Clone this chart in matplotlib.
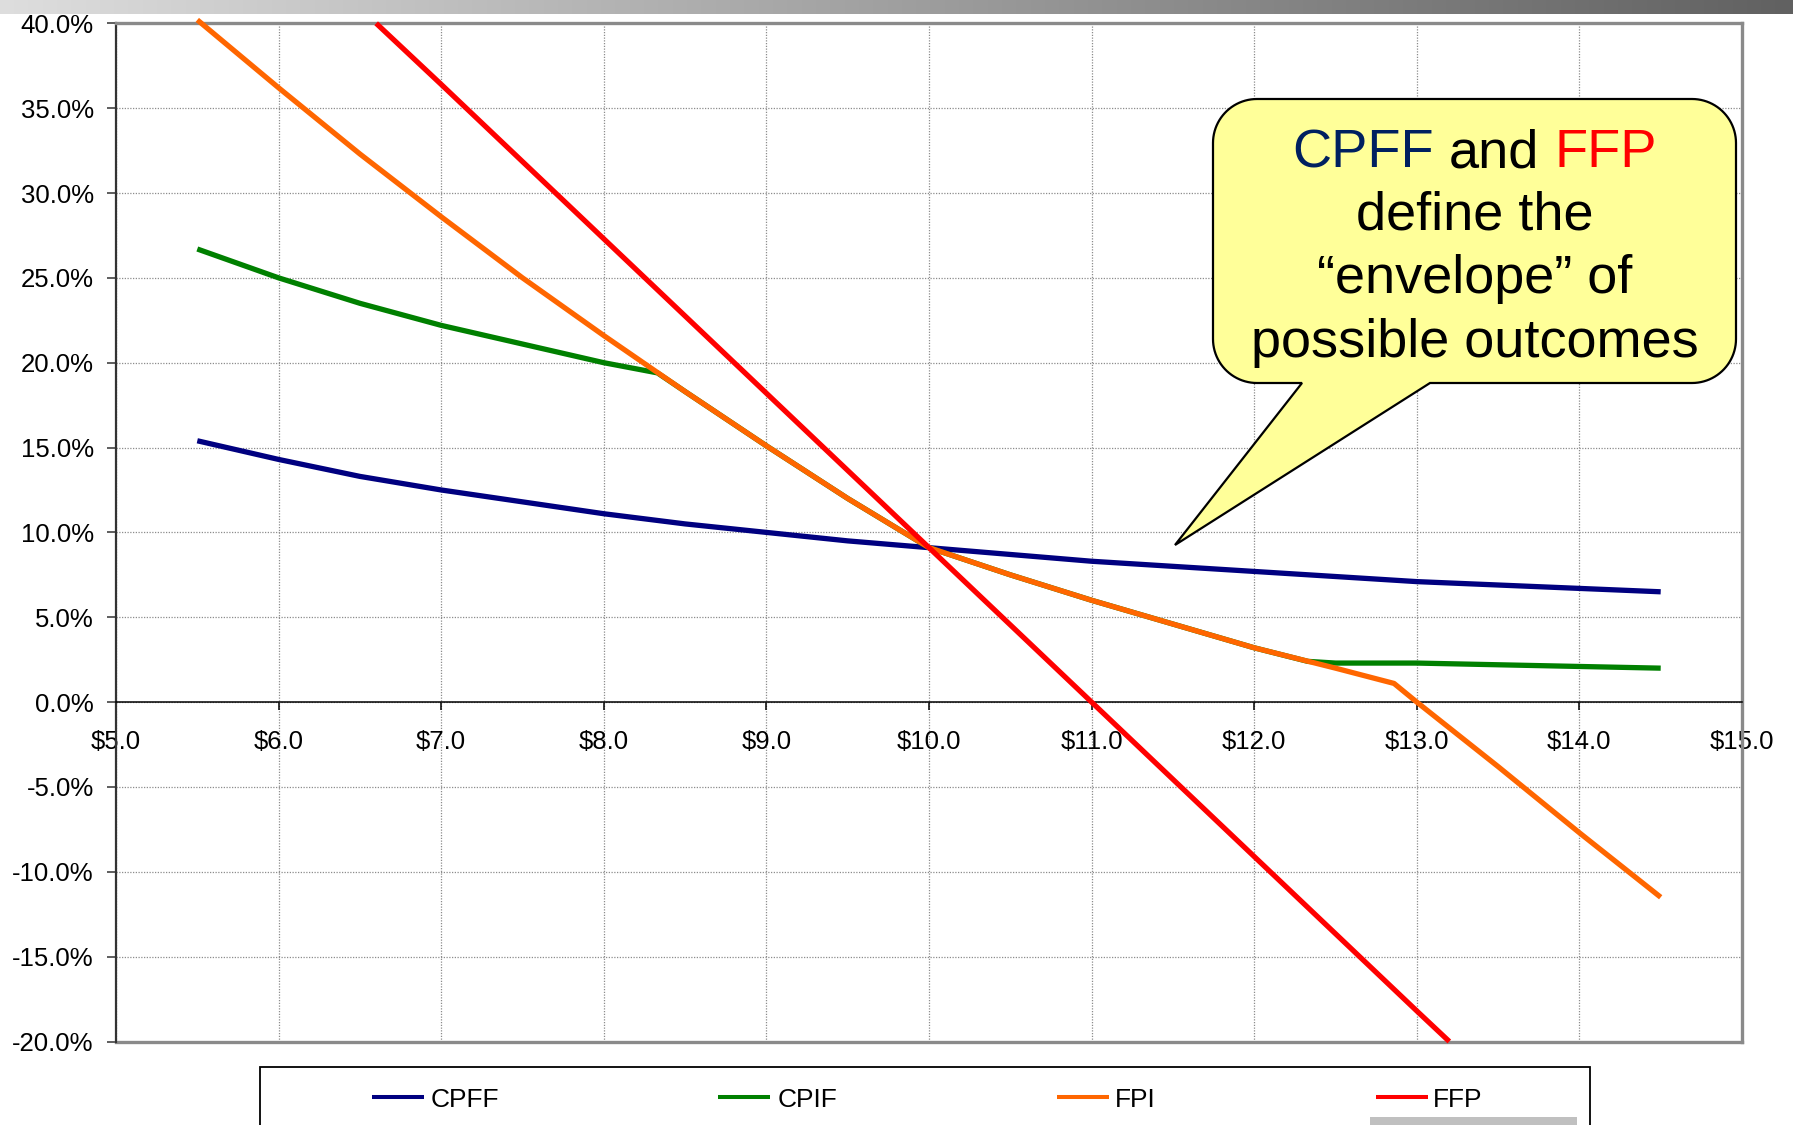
import numpy as np
import matplotlib
matplotlib.use("Agg")
import matplotlib.pyplot as plt
from matplotlib.path import Path
from matplotlib.patches import PathPatch, Rectangle
from matplotlib.ticker import FixedLocator, FixedFormatter

plt.rcParams['font.family'] = ['Liberation Sans', 'DejaVu Sans']

# ---- data: profit rate (%) versus actual cost ($M) for each contract type ----
cpff_cost = [5.5, 6.0, 6.5, 7.0, 7.5, 8.0, 8.5, 9.0, 9.5, 10.0,
             10.5, 11.0, 11.5, 12.0, 12.5, 13.0, 13.5, 14.0, 14.5]
cpff = [15.4, 14.3, 13.3, 12.5, 11.8, 11.1, 10.5, 10.0, 9.5, 9.1,
        8.7, 8.3, 8.0, 7.7, 7.4, 7.1, 6.9, 6.7, 6.5]

cpif_cost = [5.5, 6.0, 6.5, 7.0, 7.5, 8.0, 8.33, 8.5, 9.0, 9.5, 10.0,
             10.5, 11.0, 11.5, 12.0, 12.33, 12.5, 13.0, 13.5, 14.0, 14.5]
cpif = [26.7, 25.0, 23.5, 22.2, 21.1, 20.0, 19.4, 18.3, 15.1, 12.0, 9.1,
        7.5, 6.0, 4.6, 3.2, 2.4, 2.3, 2.3, 2.2, 2.1, 2.0]

fpi_cost = [5.5, 6.0, 6.5, 7.0, 7.5, 8.0, 8.5, 9.0, 9.5, 10.0,
            10.5, 11.0, 11.5, 12.0, 12.5, 12.86, 13.0, 13.5, 14.0, 14.5]
fpi = [40.2, 36.2, 32.3, 28.6, 25.0, 21.6, 18.3, 15.1, 12.0, 9.1,
       7.5, 6.0, 4.6, 3.2, 2.0, 1.1, 0.0, -3.8, -7.7, -11.5]

ffp_cost = [6.6, 7.0, 8.0, 9.0, 10.0, 11.0, 12.0, 13.0, 13.2]
ffp = [40.0, 36.4, 27.3, 18.2, 9.1, 0.0, -9.1, -18.2, -20.0]

series_names = ["CPFF", "CPIF", "FPI", "FFP"]
series_colors = ["#000080", "#008000", "#FF6600", "#FF0000"]

x_ticks = [5, 6, 7, 8, 9, 10, 11, 12, 13, 14, 15]
x_labels = ["$5.0", "$6.0", "$7.0", "$8.0", "$9.0", "$10.0",
            "$11.0", "$12.0", "$13.0", "$14.0", "$15.0"]
y_ticks = [-20, -15, -10, -5, 0, 5, 10, 15, 20, 25, 30, 35, 40]
y_labels = ["-20.0%", "-15.0%", "-10.0%", "-5.0%", "0.0%", "5.0%", "10.0%",
            "15.0%", "20.0%", "25.0%", "30.0%", "35.0%", "40.0%"]

callout_lines = ["define the", "\u201cenvelope\u201d of", "possible outcomes"]

# ---- figure and plot area ----
W, H = 1793, 1125
fig = plt.figure(figsize=(W / 100, H / 100), dpi=100)
fig.patch.set_facecolor("white")

L, R, T, B = 116, 1742, 23.3, 1041.5
ax = fig.add_axes([L / W, 1 - B / H, (R - L) / W, (B - T) / H])
ax.set_xlim(5, 15)
ax.set_ylim(-20, 40)
ax.set_axisbelow(True)

ax.xaxis.set_major_locator(FixedLocator(x_ticks))
ax.xaxis.set_major_formatter(FixedFormatter([s.replace("$", r"\$") for s in x_labels]))
ax.yaxis.set_major_locator(FixedLocator(y_ticks))
ax.yaxis.set_major_formatter(FixedFormatter(y_labels))

ax.grid(True, color="#8c8c8c", lw=0.9, ls=(0, (1, 1.2)))

ax.spines["bottom"].set_position(("data", 0))
ax.spines["bottom"].set_color("black")
ax.spines["bottom"].set_linewidth(1.1)
ax.spines["left"].set_color("#333333")
ax.spines["left"].set_linewidth(1.6)
for s in ("top", "right"):
    ax.spines[s].set_color("#8a8a8a")
    ax.spines[s].set_linewidth(2.4)
ax.axhline(-20, color="#8a8a8a", lw=2.4, zorder=2.5, clip_on=False)

ax.tick_params(axis="x", direction="out", length=5.8, width=1.1, color="black",
               pad=14.5, labelsize=18.5)
ax.tick_params(axis="y", direction="out", length=6.5, width=1.1, color="#333333",
               pad=9.5, labelsize=18.5)

for xs, ys, c in zip([cpff_cost, cpif_cost, fpi_cost, ffp_cost],
                     [cpff, cpif, fpi, ffp], series_colors):
    ax.plot(xs, ys, color=c, lw=3.8, solid_joinstyle="round",
            solid_capstyle="butt", clip_on=False, zorder=3)

# ---- overlay in pixel coordinates (y downward) ----
ov = fig.add_axes([0, 0, 1, 1], zorder=10)
ov.patch.set_alpha(0)
ov.axis("off")

# shaded band along the top edge
grad = np.linspace(0, 1, 512)
c0 = np.array([0.87, 0.87, 0.87])
c1 = np.array([0.38, 0.38, 0.38])
band = (c0[None, :] * (1 - grad[:, None]) + c1[None, :] * grad[:, None])[None, :, :]
ov.imshow(band, extent=[0, W, 14, 0], aspect="auto", interpolation="bilinear")
ov.set_xlim(0, W)
ov.set_ylim(H, 0)

# speech-bubble callout
bx0, bx1, by0, by1, rad = 1213, 1736, 99, 383, 44
tip = (1175, 545)
base_l, base_r = 1302, 1430


def arc(cx, cy, a0, a1, n=24):
    a = np.radians(np.linspace(a0, a1, n))
    return list(zip(cx + rad * np.cos(a), cy + rad * np.sin(a)))


pts = []
pts += [(bx0 + rad, by0), (bx1 - rad, by0)]
pts += arc(bx1 - rad, by0 + rad, -90, 0)
pts += [(bx1, by1 - rad)]
pts += arc(bx1 - rad, by1 - rad, 0, 90)
pts += [(base_r, by1), tip, (base_l, by1), (bx0 + rad, by1)]
pts += arc(bx0 + rad, by1 - rad, 90, 180)
pts += [(bx0, by0 + rad)]
pts += arc(bx0 + rad, by0 + rad, 180, 270)
codes = [Path.MOVETO] + [Path.LINETO] * (len(pts) - 1) + [Path.CLOSEPOLY]
bubble = Path(pts + [pts[0]], codes)
ov.add_patch(PathPatch(bubble, facecolor="#FFFF99", edgecolor="black", lw=1.6,
                       joinstyle="miter"))

cx = (bx0 + bx1) / 2
fs_call = 39
renderer = fig.canvas.get_renderer()


def width_of(s):
    t = ov.text(0, 0, s, fontsize=fs_call)
    w = t.get_window_extent(renderer).width
    t.remove()
    return w


w_full = width_of("CPFF and FFP")
w_cpff = width_of("CPFF")
w_ffp = width_of("FFP")
x_start = cx - w_full / 2
base1 = 167
ov.text(x_start, base1, "CPFF", fontsize=fs_call, color="#002060", va="baseline", ha="left")
ov.text(x_start + w_full, base1, "FFP", fontsize=fs_call, color="#FF0000", va="baseline", ha="right")
ov.text((x_start + w_cpff + x_start + w_full - w_ffp) / 2, base1, "and",
        fontsize=fs_call, color="black", va="baseline", ha="center")
for line, yb in zip(callout_lines, [229, 293, 357]):
    ov.text(cx, yb, line, fontsize=fs_call, color="black", va="baseline", ha="center")

# legend box below the plot
ov.add_patch(Rectangle((260, 1067), 1330, 80, facecolor="white", edgecolor="black",
                       lw=1.3, clip_on=False))
ov.add_patch(Rectangle((1370, 1117), 207, 20, facecolor="#C0C0C0", edgecolor="none",
                       clip_on=False))
leg_line_x = [372, 718, 1057, 1376]
leg_text_x = [431, 778, 1115, 1433]
for name, col, lx, tx in zip(series_names, series_colors, leg_line_x, leg_text_x):
    ov.plot([lx, lx + 52], [1097, 1097], color=col, lw=2.9, solid_capstyle="butt")
    ov.text(tx, 1107, name, fontsize=19, color="black", va="baseline", ha="left")

fig.savefig("out.png", dpi=100)
